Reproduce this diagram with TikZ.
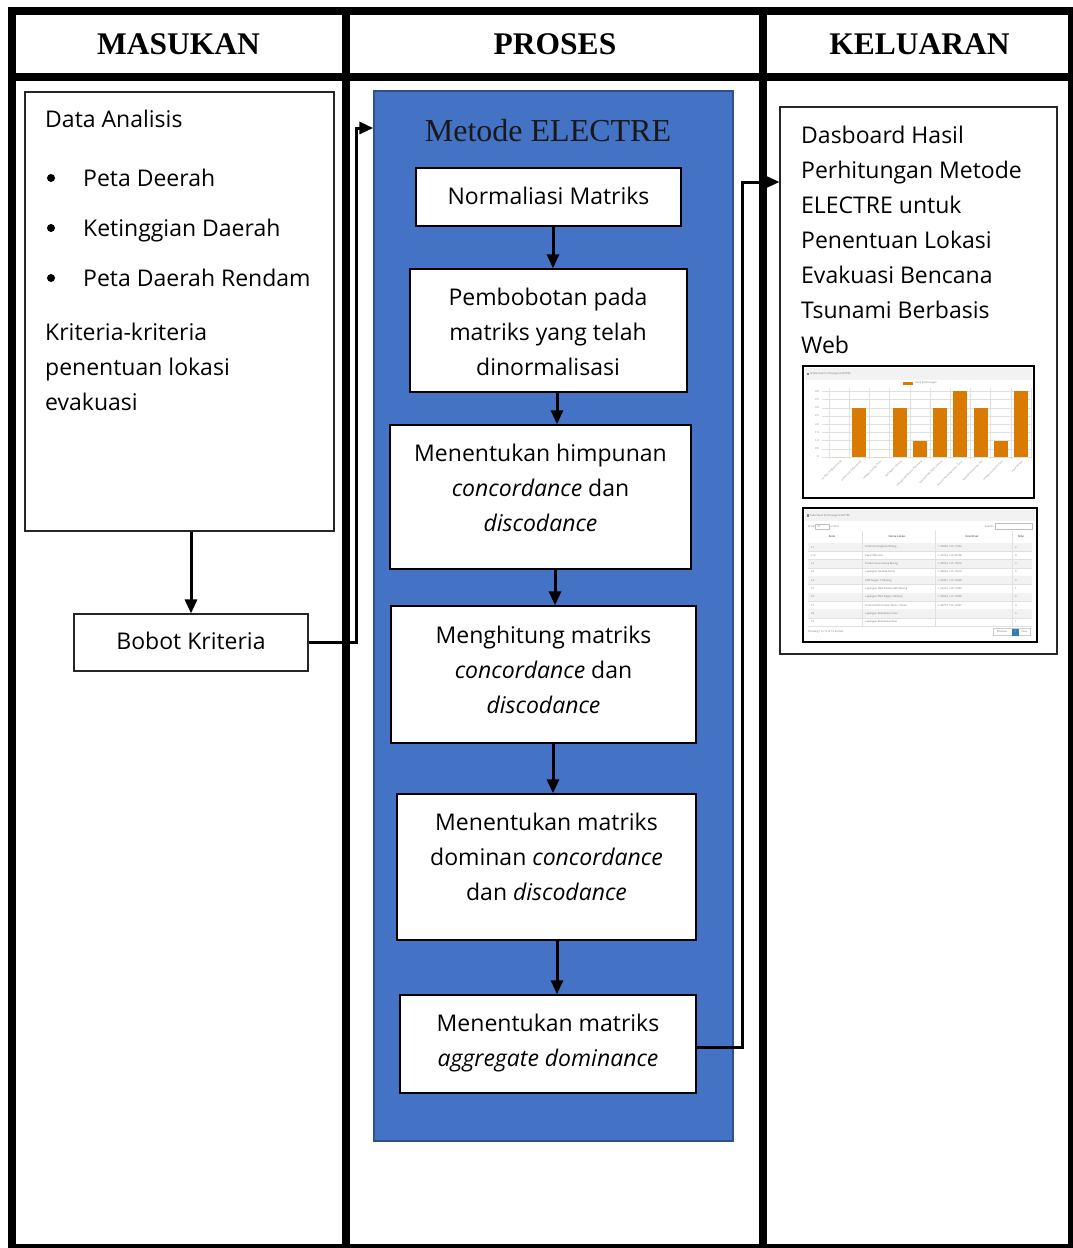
\documentclass[tikz,border=0pt]{standalone}
\usepackage{fontspec}
\setmainfont{Open Sans}
\newfontfamily\headfont{Liberation Serif}
\usetikzlibrary{arrows.meta}

\definecolor{procblue}{HTML}{4472C4}
\definecolor{procedge}{HTML}{2F528F}
\definecolor{barorange}{HTML}{D97B00}
\definecolor{pagerblue}{HTML}{337AB7}

\begin{document}
\begin{tikzpicture}[x=1pt,y=-1pt,
  frameline/.style={line width=8pt},
  head/.style={font=\headfont\bfseries\fontsize{31.5}{36}\selectfont, inner sep=0},
  body/.style={font=\fontsize{23}{35}\selectfont, inner sep=0,
    execute at begin node=\strut, execute at end node=\strut},
  thinbox/.style={draw=black!85, line width=1.1pt, fill=white, inner sep=0},
  procbox/.style={draw=black, line width=1.4pt, fill=white, inner sep=0},
  arr/.style={line width=3pt, -{Triangle[length=14pt,width=12pt]}},
  minitext/.style={font=\fontsize{2.6}{3}\selectfont, text=black!55, inner sep=0},
  gridline/.style={draw=black!12, line width=0.4pt},
]
\useasboundingbox (0,0) rectangle (1073,1248);
\fill[white] (0,0) rectangle (1073,1248);

% ---------- table frame ----------
\draw[frameline] (11.5,11) rectangle (1072,1248);
\draw[frameline] (11.5,76.5) -- (1072,76.5);
\draw[frameline] (346,7) -- (346,1248);
\draw[frameline] (763,7) -- (763,1248);

\node[head] (hin)   at (178.5,44) {MASUKAN};
\node[head] (hproc) at (555,44)   {PROSES};
\node[head] (hout)  at (919.5,44) {KELUARAN};

% ---------- input column ----------
\node[thinbox, minimum width=309pt, minimum height=439pt] (data) at (179.5,311.5) {};
\node[body, anchor=west] (datatitle) at (45,120) {Data Analisis};
\fill (51,178) circle (4);
\fill (51,228) circle (4);
\fill (51,278) circle (4);
\node[body, anchor=west] (in1) at (83,179) {Peta Deerah};
\node[body, anchor=west] (in2) at (83,229) {Ketinggian Daerah};
\node[body, anchor=west] (in3) at (83,279) {Peta Daerah Rendam};
\node[body, anchor=west, align=left] (crit) at (45,372)
  {Kriteria-kriteria\\penentuan lokasi\\evakuasi};

\node[thinbox, body, minimum width=234pt, minimum height=57pt] (bobot) at (191,642.5) {Bobot Kriteria};

% ---------- process column ----------
\node[draw=procedge, line width=1.5pt, fill=procblue, minimum width=359pt,
      minimum height=1050pt, inner sep=0] (blue) at (553.5,616) {};
\node[font=\headfont\fontsize{32}{38}\selectfont, text=black!90, inner sep=0] (mtitle) at (548,131) {Metode ELECTRE};

\node[procbox, body, minimum width=265pt, minimum height=58pt] (b1) at (548.5,197) {Normaliasi Matriks};
\node[procbox, minimum width=277pt, minimum height=123pt] (b2) at (548.5,330.5) {};
\node[procbox, minimum width=301pt, minimum height=144pt] (b3) at (540.5,497) {};
\node[procbox, minimum width=305pt, minimum height=137pt] (b4) at (543.5,674.5) {};
\node[procbox, minimum width=299pt, minimum height=146pt] (b5) at (546.5,867) {};
\node[procbox, minimum width=296pt, minimum height=98pt]  (b6) at (548,1044) {};

\node[body, align=center] (t2) at (548,337)
  {Pembobotan pada\\matriks yang telah\\dinormalisasi};
\node[body, align=center] (t3) at (540.5,493)
  {Menentukan himpunan\\\textit{concordance} dan\\\textit{discodance}};
\node[body, align=center] (t4) at (543.5,675)
  {Menghitung matriks\\\textit{concordance} dan\\\textit{discodance}};
\node[body, align=center] (t5) at (546.5,862)
  {Menentukan matriks\\dominan \textit{concordance}\\dan \textit{discodance}};
\node[body, align=center] (t6) at (548,1045)
  {Menentukan matriks\\\textit{aggregate dominance}};

% ---------- output column ----------
\node[thinbox, minimum width=277pt, minimum height=547pt] (outbox) at (918.5,380.5) {};
\node[body, anchor=west, align=left] (outtext) at (801,245)
  {Dasboard Hasil\\Perhitungan Metode\\ELECTRE untuk\\Penentuan Lokasi\\Evakuasi Bencana\\Tsunami Berbasis\\Web};

% bar chart screenshot
\node[draw=black, line width=2pt, fill=white, minimum width=231pt, minimum height=132pt, inner sep=0] (chart) at (918.5,432) {};
\fill[black!5] (805,368) rectangle (1032,380);
\fill[black!50] (807,372.5) rectangle (809,375);
\node[minitext, anchor=west] (charttitle) at (810,374) {Grafik Hasil Perhitungan ELECTRE};
\fill[barorange] (903,381.5) rectangle (913,385);
\node[minitext, anchor=west] (legend) at (915,383.2) {Hasil Perhitungan};
\foreach \v [count=\i] in {0,0.5,1.0,1.5,2.0,2.5,3.0,3.5,4.0} {
  \draw[gridline] (822,{457-16.4*\v}) -- (1031,{457-16.4*\v});
  \node[minitext, anchor=east] (ytick\i) at (819,{457-16.4*\v}) {\v};
}
\foreach \k in {0,...,10}
  \draw[gridline] ({829+20.2*\k},388) -- ({829+20.2*\k},459);
\foreach \val [count=\k] in {0,3,0,3,1,3,4,3,1,4}
  \fill[barorange] ({839.1+20.2*(\k-1)-7},457) rectangle ++(14,{-16.4*\val});
\foreach \lab [count=\k] in {Terminal Tangkoko Bitung,Stadion Dua Sudara Bitung,
    Lapangan Tembak Girian,SMP Negeri 13 Bitung,Lapangan SMA Doama Rahi Bitung,
    Lapangan SMA Negeri 2 Bitung,Terminal Peti Kemas Tanto / Tonas,
    Lapangan Kelembean Satu,Lapangan Kelembean Dua,Pasar Winenet}
  \node[minitext, font=\fontsize{2.2}{2.6}\selectfont, anchor=east, rotate=45] (xlab\k) at ({839.1+20.2*(\k-1)+2},461) {\lab};

% result table screenshot
\node[draw=black, line width=2pt, fill=white, minimum width=234pt, minimum height=134pt, inner sep=0] (table) at (920,575) {};
\fill[black!5] (805,510) rectangle (1035,521);
\fill[black!50] (807,514) rectangle (809,516.5);
\node[minitext, anchor=west] (tabletitle) at (810,515.5) {Tabel Hasil Perhitungan ELECTRE};
\node[minitext, anchor=west] (show) at (808,526.5) {Show};
\draw[black!25, line width=0.3pt] (815.5,524) rectangle (829,529);
\node[minitext, anchor=west] (showten) at (817,526.5) {10};
\node[minitext, anchor=west] (entries) at (830.5,526.5) {entries};
\node[minitext, anchor=east] (search) at (994,526.5) {Search:};
\draw[black!25, line width=0.3pt] (995,523.5) rectangle (1032,529.5);
\node[minitext, font=\bfseries\fontsize{2.6}{3}\selectfont] (hk) at (832,537) {Kode};
\node[minitext, font=\bfseries\fontsize{2.6}{3}\selectfont] (hn) at (897,537) {Nama Lokasi};
\node[minitext, font=\bfseries\fontsize{2.6}{3}\selectfont] (hc) at (972,537) {Koordinat};
\node[minitext, font=\bfseries\fontsize{2.6}{3}\selectfont] (hv) at (1021,537) {Nilai};
\draw[black!30, line width=0.6pt] (808,543) -- (1032,543);
\foreach \kode/\nama/\koor/\nilai [count=\r] in {
    L1/{Terminal Tangkoko Bitung}/{1.42856, 125.11652}/0,
    L10/{Pasar Winenet}/{1.45252, 125.20158}/4,
    L2/{Stadion Dua Sudara Bitung}/{1.43532, 125.15013}/3,
    L3/{Lapangan Tembak Girian}/{1.46626, 125.12014}/0,
    L4/{SMP Negeri 13 Bitung}/{1.42937, 125.13428}/3,
    L5/{Lapangan SMA Doama Rahi Bitung}/{1.45222, 125.17854}/1,
    L6/{Lapangan SMA Negeri 2 Bitung}/{1.43533, 125.15358}/3,
    L7/{Terminal Peti Kemas Tanto \slash{} Tonas}/{1.46772, 125.16307}/4,
    L8/{Lapangan Kelembean Satu}/{}/3,
    L9/{Lapangan Kelembean Dua}/{}/1} {
  \pgfmathsetmacro{\ry}{543+8.3*(\r-0.5)}
  \ifodd\r \fill[black!5] (808,{\ry-4.15}) rectangle (1032,{\ry+4.15}); \fi
  \draw[gridline] (808,{\ry+4.15}) -- (1032,{\ry+4.15});
  \node[minitext, anchor=west] (rk\r) at (811,\ry) {\kode};
  \node[minitext, anchor=west] (rn\r) at (865,\ry) {\nama};
  \node[minitext, anchor=west] (rc\r) at (938,\ry) {\koor};
  \node[minitext, anchor=west] (rv\r) at (1015,\ry) {\nilai};
}
\foreach \cx in {862,935,1012}
  \draw[gridline] (\cx,531) -- (\cx,626);
\node[minitext, anchor=west] (footer) at (808,632) {Showing 1 to 10 of 10 entries};
\draw[black!20, line width=0.3pt] (993,628.5) rectangle (1030,635.5);
\node[minitext] (prev) at (1002,632) {Previous};
\fill[pagerblue] (1011.5,628.5) rectangle (1018.5,635.5);
\node[minitext, text=white] (pone) at (1015,632) {1};
\node[minitext] (next) at (1024.5,632) {Next};

% ---------- connectors ----------
\draw[arr] (bobot.north |- data.south) -- (bobot.north);
\draw[arr] (bobot.east) -| (356,128) -- (blue.west |- 356,128);
\draw[arr] (553,0 |- b1.south) -- (553,0 |- b2.north);
\draw[arr] (557,0 |- b2.south) -- (557,0 |- b3.north);
\draw[arr] (555,0 |- b3.south) -- (555,0 |- b4.north);
\draw[arr] (553,0 |- b4.south) -- (553,0 |- b5.north);
\draw[arr] (557,0 |- b5.south) -- (557,0 |- b6.north);
\draw[arr] (b6.east |- 0,1047) -| (742,182) -- (outbox.west |- 742,182);
\end{tikzpicture}
\end{document}
